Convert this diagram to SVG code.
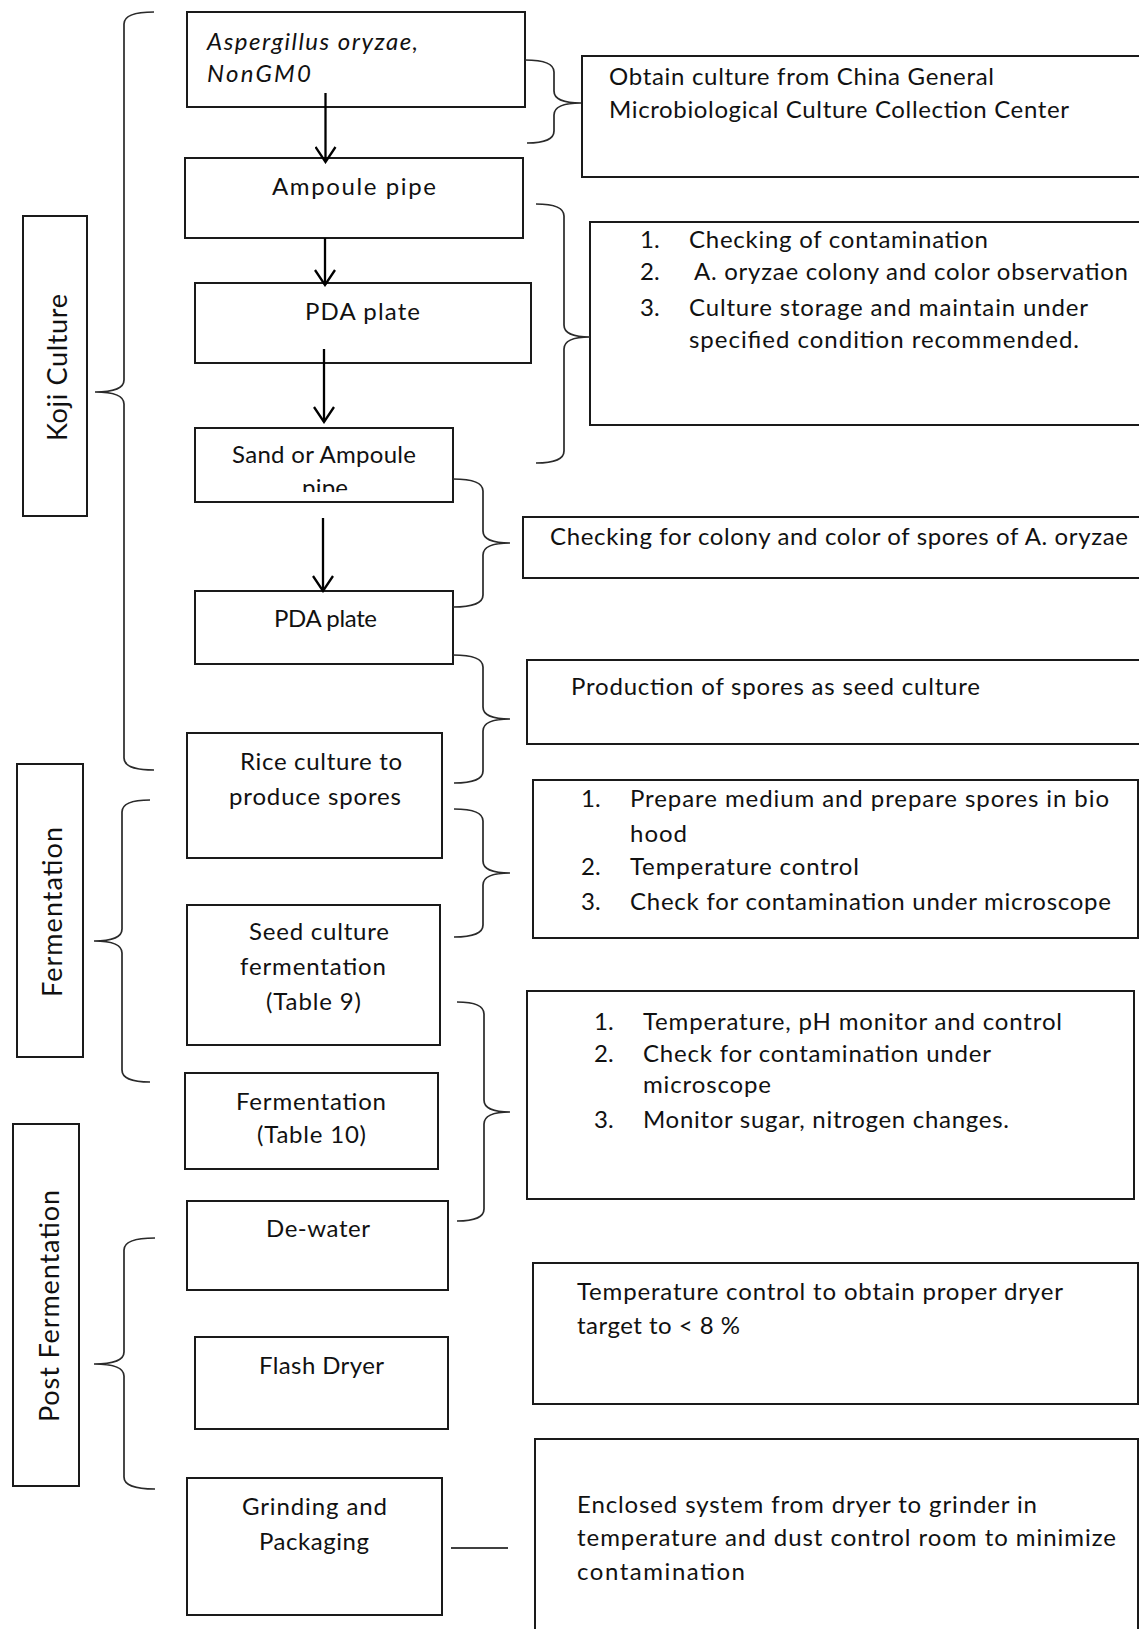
<svg xmlns="http://www.w3.org/2000/svg" width="1139" height="1629" viewBox="0 0 1139 1629">
<style>
.box{fill:none;stroke:#1a1a1a;stroke-width:2}
.t{font-family:Lato,'Open Sans','Liberation Sans',sans-serif;font-size:24px;fill:#111}
.it{font-style:italic}
.lbl{font-size:27px}
.brace{fill:none;stroke:#2a2a2a;stroke-width:1.7}
.arrow{fill:none;stroke:#000;stroke-width:2.3;marker-end:url(#ah)}
.line{fill:none;stroke:#000;stroke-width:1.7}
</style>
<defs>
<marker id="ah" viewBox="-17 -11 19 22" refX="0" refY="0" markerWidth="19" markerHeight="22" markerUnits="userSpaceOnUse" orient="auto">
<path d="M-15,-10 L0,0 L-15,10" fill="none" stroke="#000" stroke-width="2.3"/>
</marker>
<clipPath id="clipSand"><rect x="196" y="430" width="256" height="62"/></clipPath>
</defs>
<rect x="0" y="0" width="1139" height="1629" fill="#fff"/>

<!-- Section labels -->
<g id="koji-label">
<rect class="box" x="23" y="216" width="64" height="300"/>
<text class="t lbl" transform="translate(67,441) rotate(-90)" textLength="147">Koji Culture</text>
</g>
<g id="fermentation-label">
<rect class="box" x="17" y="764" width="66" height="293"/>
<text class="t lbl" transform="translate(62,997) rotate(-90)" textLength="170">Fermentation</text>
</g>
<g id="post-fermentation-label">
<rect class="box" x="13" y="1124" width="66" height="362"/>
<text class="t lbl" transform="translate(59,1422) rotate(-90)" textLength="232">Post Fermentation</text>
</g>

<!-- Process boxes -->
<g id="n-aspergillus">
<rect class="box" x="187" y="12" width="338" height="95"/>
<text class="t it" x="207" y="50" textLength="211">Aspergillus oryzae,</text>
<text class="t it" x="207" y="82" textLength="104">NonGM0</text>
</g>
<g id="n-ampoule">
<rect class="box" x="185" y="158" width="338" height="80"/>
<text class="t" x="272" y="195" textLength="164">Ampoule pipe</text>
</g>
<g id="n-pda1">
<rect class="box" x="195" y="283" width="336" height="80"/>
<text class="t" x="305" y="320" textLength="115">PDA plate</text>
</g>
<g id="n-sand">
<rect class="box" x="195" y="428" width="258" height="74"/>
<text class="t" x="232" y="463" textLength="184">Sand or Ampoule</text>
<text class="t" x="302" y="496" textLength="46" clip-path="url(#clipSand)">pipe</text>
</g>
<g id="n-pda2">
<rect class="box" x="195" y="591" width="258" height="73"/>
<text class="t" x="274" y="627" textLength="103">PDA plate</text>
</g>
<g id="n-rice">
<rect class="box" x="187" y="733" width="255" height="125"/>
<text class="t" x="240" y="770" textLength="162">Rice culture to</text>
<text class="t" x="229" y="805" textLength="172">produce spores</text>
</g>
<g id="n-seed">
<rect class="box" x="187" y="905" width="253" height="140"/>
<text class="t" x="249" y="940" textLength="140">Seed culture</text>
<text class="t" x="240" y="975" textLength="146">fermentation</text>
<text class="t" x="266" y="1010" textLength="95">(Table 9)</text>
</g>
<g id="n-fermentation">
<rect class="box" x="185" y="1073" width="253" height="96"/>
<text class="t" x="236" y="1110" textLength="150">Fermentation</text>
<text class="t" x="257" y="1143" textLength="109">(Table 10)</text>
</g>
<g id="n-dewater">
<rect class="box" x="187" y="1201" width="261" height="89"/>
<text class="t" x="266" y="1237" textLength="104">De-water</text>
</g>
<g id="n-flash">
<rect class="box" x="195" y="1337" width="253" height="92"/>
<text class="t" x="259" y="1374" textLength="125">Flash Dryer</text>
</g>
<g id="n-grinding">
<rect class="box" x="187" y="1478" width="255" height="137"/>
<text class="t" x="242" y="1515" textLength="145">Grinding and</text>
<text class="t" x="259" y="1550" textLength="110">Packaging</text>
</g>

<!-- Note boxes -->
<g id="note-obtain">
<rect class="box" x="582" y="56" width="565" height="121"/>
<text class="t" x="609" y="85" textLength="385">Obtain culture from China General</text>
<text class="t" x="609" y="118" textLength="460">Microbiological Culture Collection Center</text>
</g>
<g id="note-checking">
<rect class="box" x="590" y="222" width="557" height="203"/>
<text class="t" x="640" y="248">1.</text><text class="t" x="689" y="248" textLength="299">Checking of contamination</text>
<text class="t" x="640" y="280">2.</text><text class="t" x="694" y="280" textLength="434">A. oryzae colony and color observation</text>
<text class="t" x="640" y="316">3.</text><text class="t" x="689" y="316" textLength="399">Culture storage and maintain under</text>
<text class="t" x="689" y="348" textLength="390">specified condition recommended.</text>
</g>
<g id="note-colony">
<rect class="box" x="523" y="517" width="624" height="61"/>
<text class="t" x="550" y="545" textLength="578">Checking for colony and color of spores of A. oryzae</text>
</g>
<g id="note-production">
<rect class="box" x="527" y="660" width="620" height="84"/>
<text class="t" x="571" y="695" textLength="409">Production of spores as seed culture</text>
</g>
<g id="note-prepare">
<rect class="box" x="533" y="780" width="605" height="158"/>
<text class="t" x="581" y="807">1.</text><text class="t" x="630" y="807" textLength="479">Prepare medium and prepare spores in bio</text>
<text class="t" x="630" y="842" textLength="57">hood</text>
<text class="t" x="581" y="875">2.</text><text class="t" x="630" y="875" textLength="229">Temperature control</text>
<text class="t" x="581" y="910">3.</text><text class="t" x="630" y="910" textLength="481">Check for contamination under microscope</text>
</g>
<g id="note-monitor">
<rect class="box" x="527" y="991" width="607" height="208"/>
<text class="t" x="594" y="1030">1.</text><text class="t" x="643" y="1030" textLength="419">Temperature, pH monitor and control</text>
<text class="t" x="594" y="1062">2.</text><text class="t" x="643" y="1062" textLength="348">Check for contamination under</text>
<text class="t" x="643" y="1093" textLength="128">microscope</text>
<text class="t" x="594" y="1128">3.</text><text class="t" x="643" y="1128" textLength="366">Monitor sugar, nitrogen changes.</text>
</g>
<g id="note-temperature">
<rect class="box" x="533" y="1263" width="605" height="141"/>
<text class="t" x="577" y="1300" textLength="486">Temperature control to obtain proper dryer</text>
<text class="t" x="577" y="1334" textLength="163">target to &lt; 8 %</text>
</g>
<g id="note-enclosed">
<rect class="box" x="535" y="1439" width="603" height="200"/>
<text class="t" x="577" y="1513" textLength="460">Enclosed system from dryer to grinder in</text>
<text class="t" x="577" y="1546" textLength="539">temperature and dust control room to minimize</text>
<text class="t" x="577" y="1580" textLength="168">contamination</text>
</g>

<!-- Connectors -->
<g id="connectors">
<line class="arrow" x1="325.5" y1="93" x2="325.5" y2="162"/>
<line class="arrow" x1="325" y1="238" x2="325" y2="285"/>
<line class="arrow" x1="324" y1="349" x2="324" y2="422"/>
<line class="arrow" x1="323" y1="518" x2="323" y2="591"/>

<path class="brace" d="M154,12 Q124,12 124,24 L124,380 Q124,392 95,392 Q124,392 124,404 L124,758 Q124,770 154,770"/>
<path class="brace" d="M150,800 Q122,800 122,812 L122,929 Q122,941 94,941 Q122,941 122,953 L122,1070 Q122,1082 150,1082"/>
<path class="brace" d="M155,1238 Q124,1238 124,1250 L124,1352 Q124,1364 94,1364 Q124,1364 124,1376 L124,1477 Q124,1489 155,1489"/>

<path class="brace" d="M525,60 Q554,60 554,72 L554,91 Q554,103 581,103 Q554,103 554,115 L554,131 Q554,143 527,143"/>
<path class="brace" d="M536,204 Q564,204 564,216 L564,325 Q564,337 590,337 Q564,337 564,349 L564,451 Q564,463 536,463"/>
<path class="brace" d="M453,479 Q483,479 483,491 L483,531 Q483,543 510,543 Q483,543 483,555 L483,595 Q483,607 453,607"/>
<path class="brace" d="M453,655 Q483,655 483,667 L483,707 Q483,719 510,719 Q483,719 483,731 L483,771 Q483,783 454,783"/>
<path class="brace" d="M454,809 Q483,809 483,821 L483,861 Q483,873 510,873 Q483,873 483,885 L483,925 Q483,937 454,937"/>
<path class="brace" d="M457,1002 Q484,1002 484,1014 L484,1100 Q484,1112 510,1112 Q484,1112 484,1124 L484,1209 Q484,1221 457,1221"/>

<line class="line" x1="451" y1="1548" x2="508" y2="1548"/>
</g>
</svg>
